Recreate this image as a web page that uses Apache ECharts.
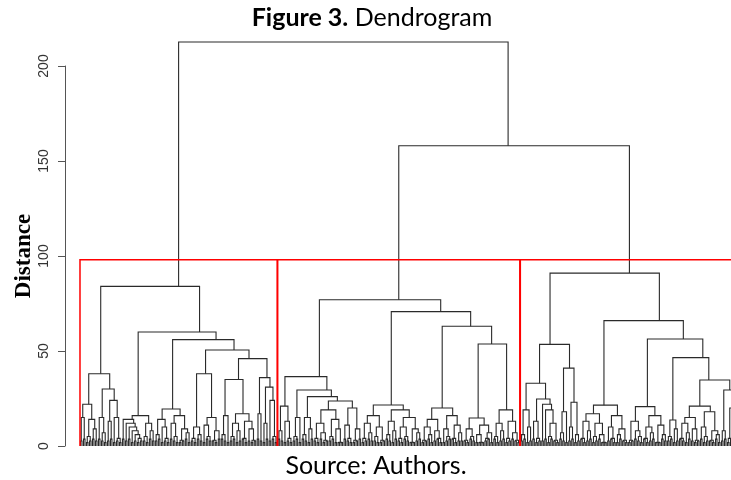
<!DOCTYPE html>
<html lang="en">
<head>
<meta charset="utf-8" />
<title>Figure 3. Dendrogram</title>
<script src="https://cdn.jsdelivr.net/npm/echarts@6/dist/echarts.min.js"></script>
<style>
  html, body { margin: 0; padding: 0; background: #fff; }
  #chart { width: 731px; height: 480px; }
</style>
</head>
<body>
<div id="chart"></div>
<script>
// merge trees, newick style: (a,b)h = merge at height h.
// a, b, c are the little leaf pairs at the very bottom (see twigs)
var cluster1 =
  "((((b,c)15,((a,b)5,(c,b)9)14)22," +
  "((c,(b,a)7)15,((b,c)13,(a,(b,a)4)15)24)30)38," +
  "(((c,(b,(c,(a,(b,(a,b)4)6)8)10)12)14,((b,a)5,(c,b)8)12)16," +
  "((((b,c)6,(a,(b,a)4)10)14,((c,(b,a)5)12,((a,b)3,(c,a)7)9)16)19.5," +
  "((((b,a)4,(c,b)6)10,((a,(c,b)5)11,((b,a)3,c)8)15)38," +
  "((((c,b)6,a)16,(((b,c)5,(a,b)8)12,((c,a)4,(b,(a,b)3)9)13)17)35," +
  "((c,b)17,((a,c)12,(b,(c,a)5)24)31)36)46)50.5)56)60)84";

var cluster2 =
  "((((c,b)8,(a,(b,a)4)13)21," +
  "(((b,c)5,a)15,(((c,b)6,(a,c)9)15," +
  "((((b,a)4,(c,(a,b)3)7)12,((b,c)5,(a,(a,a)2)9)14)19,((c,(b,a)4)11,((a,b)3,c)9)20)23.7)26)29.5)36.5," +
  "(((((a,b)4,(c,b)7)12,((b,a)5,(a,b)3)10)16," +
  "(((c,b)6,(a,c)8)13,(((b,a)4,(c,b)5)10,((a,a)2,(b,c)7)9)15)19)21.6," +
  "(((((a,b)3,(c,a)6)10,(b,(c,a)4)8)14,((a,(b,c)5)9,((c,a)4,(b,b)7)11)16)20," +
  "((((b,a)3,(c,b)5)9,((a,(a,a)2)6,((b,c)4,a)7)11)14.7," +
  "(((c,a)5,(b,c)8)12,((a,b)4,(c,(b,a)3)7)13)19)53.7)63)70.7)77";

var cluster3 =
  "(((((b,c)6,(a,b)10)19,((c,(a,b)4)13,(b,(c,((a,c)5,(b,a)3)12)19)22)24.7)33," +
  "(((c,b)7,a)18,((b,c)10,(a,b)6)23)41)53.5," +
  "(((((c,a)4,(b,c)8)13,((a,b)5,(c,(a,a)2)6)12)17,((b,(c,a)4)10,((a,c)6,(b,a)3)9)16)21.5," +
  "((((a,b)3,(c,(b,a)5)8)13,(((c,a)4,(b,c)7)10,((a,a)2,(c,b)6)11)16)20.7," +
  "(((b,c)5,(a,b)9)13.7," +
  "(((((c,b)4,(a,c)7)12,(b,(a,b)3)9)15,((c,(a,b)5)10,((b,a)3,(c,a)6)8)18)21," +
  "((b,c)8,((a,c)4,(b,a)12)20)29.5)34.7)46.5)56.3)66)91";

// bottom pairs of leaves, x = one leaf
var twigs = { a: "(x,x)1.8", b: "(x,x)2.6", c: "(x,x)3.6" };

// top merges: cluster2 + cluster3, then cluster1 + the rest
var upperHeights = [158, 212.6];
var cutHeight = 98;
var yTicks = [0, 50, 100, 150, 200];

function parseTree(s) {
  s = s.replace(/[abc]/g, function (k) { return twigs[k]; });
  var i = 0;
  function node() {
    if (s[i] === 'x') { i++; return null; }
    i++;
    var a = node(); i++;
    var b = node(); i++;
    var j = i;
    while (i < s.length && /[0-9.]/.test(s[i])) i++;
    return { left: a, right: b, h: parseFloat(s.slice(j, i)) };
  }
  return node();
}

var groups = [parseTree(cluster1), parseTree(cluster2), parseTree(cluster3)];
var root = { left: groups[0], right: { left: groups[1], right: groups[2], h: upperHeights[0] }, h: upperHeights[1] };

// every node sits at the centre of its leaves
var segments = [];
var leafCount = 0;
function place(n) {
  if (n === null) {
    leafCount++;
    return { first: leafCount, last: leafCount, x: leafCount, h: 0 };
  }
  var a = place(n.left), b = place(n.right);
  segments.push([a.x, b.x, a.h, b.h, n.h]);
  n.first = a.first;
  n.last = b.last;
  return { first: a.first, last: b.last, x: (a.first + b.last) / 2, h: n.h };
}
place(root);

var boxes = groups.map(function (g) { return [g.first - 0.34, g.last + 0.33, cutHeight]; });

// leaf 1 near x=80, last leaf a little past the right edge (figure is cropped)
var step = (738 - 80.5) / (leafCount - 1);
var xMin = 1 - (80.5 - 65) / step;
var xMax = 1 + (731 - 80.5) / step;

var chart = echarts.init(document.getElementById('chart'));
chart.setOption({
  animation: false,
  backgroundColor: '#fff',
  grid: { left: 65, right: 0, top: 66, bottom: 34 },
  xAxis: { type: 'value', min: xMin, max: xMax, show: false },
  yAxis: {
    type: 'value', min: 0, max: 200, interval: 50,
    name: 'Distance', nameLocation: 'middle', nameGap: 29, nameRotate: 90, nameMoveOverlap: false,
    nameTextStyle: { fontFamily: 'Liberation Serif', fontWeight: 'bold', fontSize: 23, color: '#000' },
    axisLine: { show: true, onZero: false, lineStyle: { color: '#555', width: 1 } },
    axisTick: { show: true, length: 7, lineStyle: { color: '#555' }, customValues: yTicks },
    axisLabel: { rotate: 90, margin: 14, fontFamily: 'Liberation Sans', fontSize: 14, color: '#333', customValues: yTicks },
    splitLine: { show: false }
  },
  graphic: [
    {
      type: 'text', x: 372, y: 18,
      style: {
        text: '{b|Figure 3.} Dendrogram', fontFamily: 'Lato', fontSize: 25, fill: '#000',
        align: 'center', verticalAlign: 'middle',
        rich: { b: { fontFamily: 'Lato', fontSize: 25, fontWeight: 'bold', fill: '#000' } }
      }
    },
    {
      type: 'text', x: 376, y: 466,
      style: { text: 'Source: Authors.', fontFamily: 'Lato', fontSize: 25, fill: '#000', align: 'center', verticalAlign: 'middle' }
    }
  ],
  series: [
    {
      type: 'custom', clip: false, silent: true, data: segments,
      renderItem: function (params, api) {
        var xl = api.value(0), xr = api.value(1), h = api.value(4);
        var pts = [
          api.coord([xl, api.value(2)]), api.coord([xl, h]),
          api.coord([xr, h]), api.coord([xr, api.value(3)])
        ];
        return { type: 'polyline', shape: { points: pts }, style: { stroke: '#2a2a2a', fill: null, lineWidth: 1.1 } };
      }
    },
    {
      type: 'custom', clip: false, silent: true, data: boxes,
      renderItem: function (params, api) {
        var x0 = api.value(0), x1 = api.value(1), top = api.value(2);
        var pts = [
          api.coord([x0, 0]), api.coord([x0, top]),
          api.coord([x1, top]), api.coord([x1, 0])
        ];
        return { type: 'polyline', shape: { points: pts }, style: { stroke: '#ff0000', fill: null, lineWidth: 1.5 } };
      }
    }
  ]
});
</script>
</body>
</html>
